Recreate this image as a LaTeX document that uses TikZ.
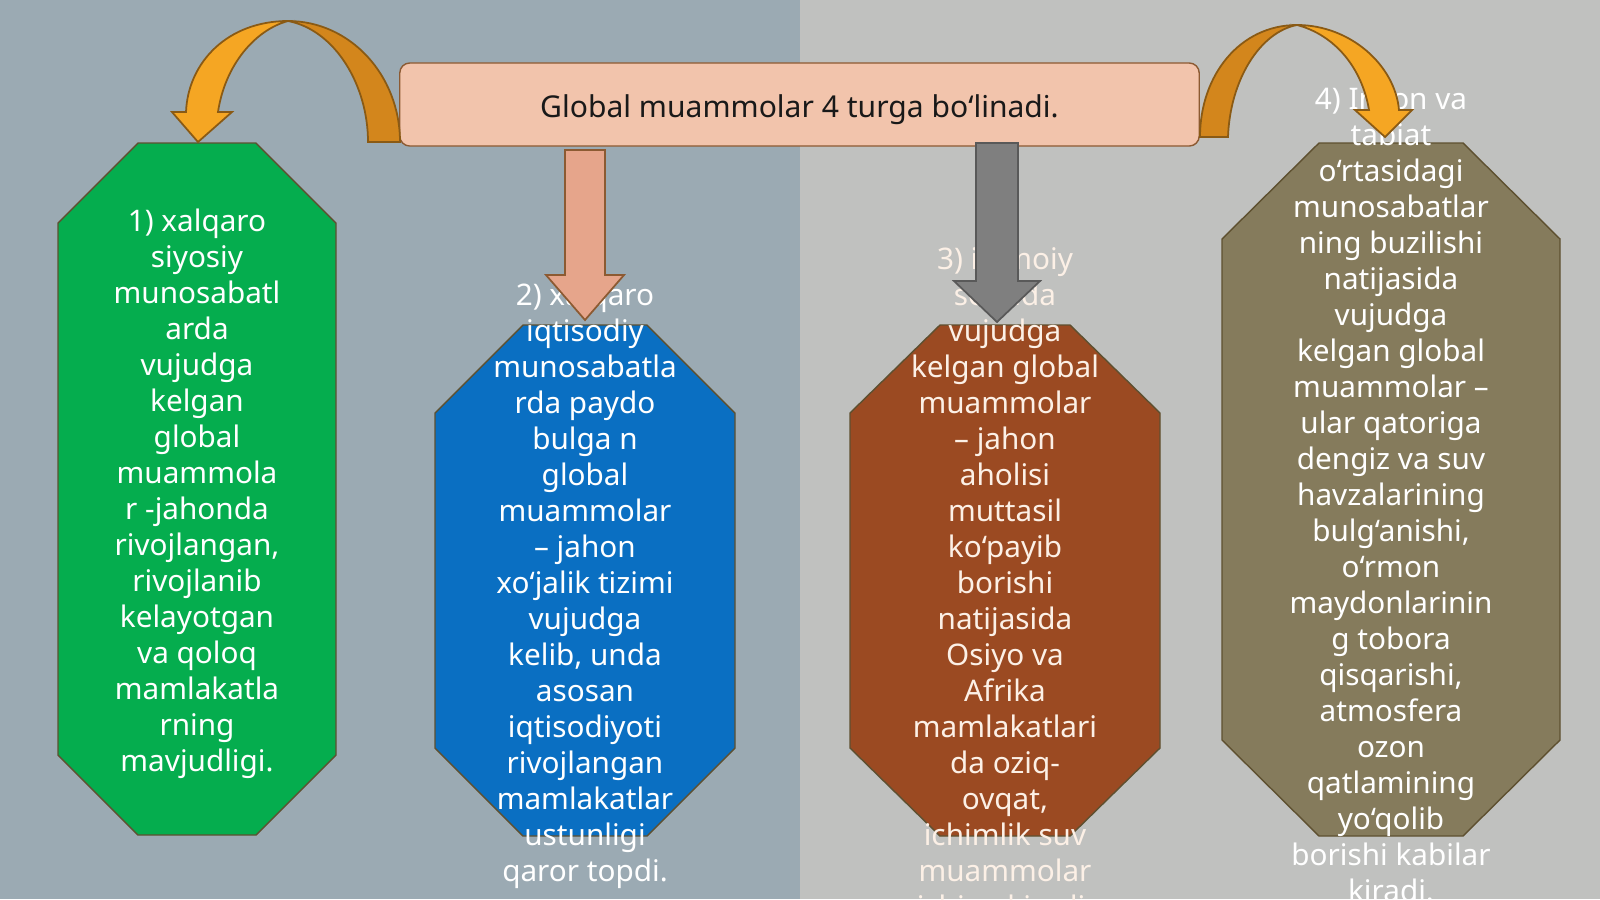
\documentclass[tikz,border=0pt]{standalone}
\usepackage{fontspec}
\setmainfont{Noto Sans}
\usepackage{tikz}

\definecolor{bgleft}{HTML}{9BAAB3}
\definecolor{bgright}{HTML}{C0C1BF}
\definecolor{titlefill}{HTML}{F2C4AC}
\definecolor{titleedge}{HTML}{8C5A32}
\definecolor{boxgreen}{HTML}{05AD4E}
\definecolor{boxblue}{HTML}{0A6FC2}
\definecolor{boxbrown}{HTML}{9B4A22}
\definecolor{boxolive}{HTML}{857B5C}
\definecolor{boxedge}{HTML}{5E5030}
\definecolor{arrowpink}{HTML}{E6A58B}
\definecolor{arrowgray}{HTML}{7F7F7F}
\definecolor{curvelight}{HTML}{F5A623}
\definecolor{curvedark}{HTML}{D3861C}
\definecolor{curveedge}{HTML}{8A5A14}
\definecolor{creamtext}{HTML}{FCF0E6}

\tikzset{
  octbox/.style={draw=boxedge, line width=0.4pt},
  boxtext/.style={align=center, text=white, inner sep=0pt,
    font=\fontsize{8.45}{10.24}\selectfont},
  blockarrow/.style={line width=0.5pt, line join=miter},
}

\begin{document}
\begin{tikzpicture}[x=0.01cm, y=-0.01cm]
\useasboundingbox (0,0) rectangle (1600,899);
\fill[bgleft] (0,0) rectangle (800,899);
\fill[bgright] (800,0) rectangle (1600,899);

% the four octagons
\filldraw[octbox, fill=boxgreen] (138,143) -- (256,143) -- (336,223) -- (336,755) -- (256,835) -- (138,835) -- (58,755) -- (58,223) -- cycle;
\filldraw[octbox, fill=boxblue] (523,325) -- (647,325) -- (735,413) -- (735,748) -- (647,836) -- (523,836) -- (435,748) -- (435,413) -- cycle;
\filldraw[octbox, fill=boxbrown] (940,325) -- (1070,325) -- (1160,413) -- (1160,748) -- (1070,836) -- (940,836) -- (850,748) -- (850,413) -- cycle;
\filldraw[octbox, fill=boxolive] (1319,143) -- (1463,143) -- (1560,239) -- (1560,740) -- (1463,836) -- (1319,836) -- (1222,740) -- (1222,239) -- cycle;

% texts
\node[boxtext] (siyosiy) at (197,494) {1) xalqaro\\ siyosiy\\ munosabatl\\ arda\\ vujudga\\ kelgan\\ global\\ muammola\\ r -jahonda\\ rivojlangan,\\ rivojlanib\\ kelayotgan\\ va qoloq\\ mamlakatla\\ rning\\ mavjudligi.};
\node[boxtext] (iqtisodiy) at (585,586) {2) xalqaro\\ iqtisodiy\\ munosabatla\\ rda paydo\\ bulga n\\ global\\ muammolar\\ – jahon\\ xo‘jalik tizimi\\ vujudga\\ kelib, unda\\ asosan\\ iqtisodiyoti\\ rivojlangan\\ mamlakatlar\\ ustunligi\\ qaror topdi.};
\node[boxtext, text=creamtext] (ijtimoiy) at (1005,586) {3) ijtimoiy\\ sohada\\ vujudga\\ kelgan global\\ muammolar\\ – jahon\\ aholisi\\ muttasil\\ ko‘payib\\ borishi\\ natijasida\\ Osiyo va\\ Afrika\\ mamlakatlari\\ da oziq-\\ ovqat,\\ ichimlik suv\\ muammolar\\ ichiga kiradi.};
\node[boxtext] (tabiat) at (1391,495) {4) Inson va\\ tabiat\\ o‘rtasidagi\\ munosabatlar\\ ning buzilishi\\ natijasida\\ vujudga\\ kelgan global\\ muammolar –\\ ular qatoriga\\ dengiz va suv\\ havzalarining\\ bulg‘anishi,\\ o‘rmon\\ maydonlarinin\\ g tobora\\ qisqarishi,\\ atmosfera\\ ozon\\ qatlamining\\ yo‘qolib\\ borishi kabilar\\ kiradi.};

% title
\node[draw=titleedge, fill=titlefill, rounded corners=0.1cm, minimum width=7.99cm, minimum height=0.83cm, text height=0.33cm, text depth=0.07cm, text=black!90, font=\fontsize{8.55}{10.24}\selectfont] (title) at (799.5,104.5) {Global muammolar 4 turga bo‘linadi.};

% straight block arrows
\filldraw[blockarrow, fill=arrowpink, draw=titleedge] (565,150) -- (605,150) -- (605,275) -- (624,275) -- (585,320) -- (546,275) -- (565,275) -- cycle;
\filldraw[blockarrow, fill=arrowgray, draw=black!65] (976,143) -- (1018,143) -- (1018,281) -- (1040,281) -- (997,322) -- (954,281) -- (976,281) -- cycle;

% curved arrow, left
\filldraw[blockarrow, fill=curvedark, draw=curveedge] (288,21) .. controls (350,21) and (400,75) .. (400,142) -- (368,142) .. controls (368,85) and (335,30) .. (288,21) -- cycle;
\filldraw[blockarrow, fill=curvelight, draw=curveedge] (288,21) .. controls (228,21) and (188,62) .. (186,112) -- (172,112) -- (198,142) -- (232,112) -- (218,112) .. controls (225,65) and (255,30) .. (288,21) -- cycle;

% curved arrow, right
\filldraw[blockarrow, fill=curvedark, draw=curveedge] (1200,137) .. controls (1200,75) and (1240,25) .. (1297,25) .. controls (1260,32) and (1230,80) .. (1228,137) -- cycle;
\filldraw[blockarrow, fill=curvelight, draw=curveedge] (1297,25) .. controls (1350,25) and (1395,65) .. (1399,110) -- (1412,110) -- (1385,137) -- (1355,110) -- (1369,110) .. controls (1362,68) and (1335,35) .. (1297,25) -- cycle;
\end{tikzpicture}
\end{document}
